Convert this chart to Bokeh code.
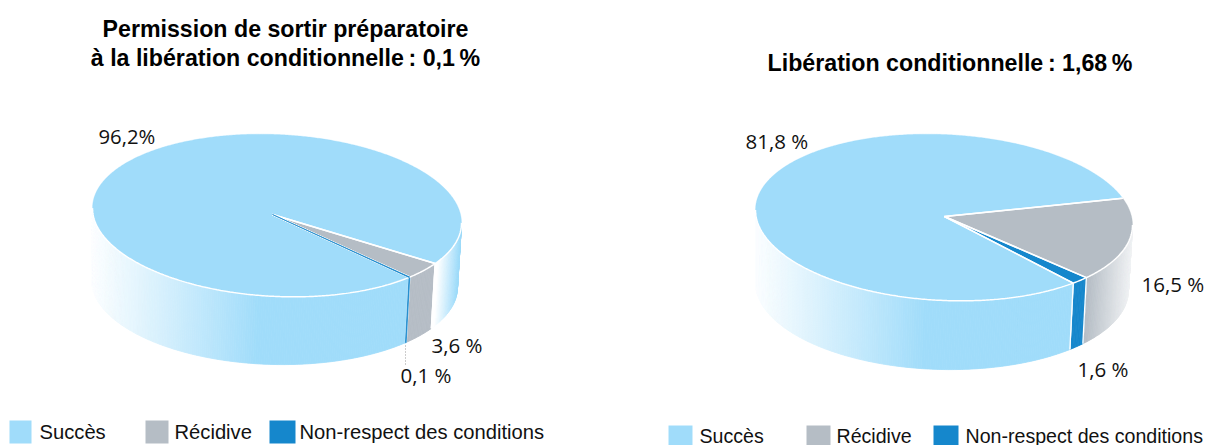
import numpy as np
from bokeh.plotting import figure
from bokeh.models import Range1d
from bokeh.core.properties import value
from bokeh.embed import file_html
from bokeh.resources import INLINE

# ---- data ----
categories = ["Succès", "Récidive", "Non-respect des conditions"]
left_values = [96.2, 3.6, 0.1]
right_values = [81.8, 16.5, 1.6]
left_labels = ["96,2%", "3,6 %", "0,1 %"]
right_labels = ["81,8 %", "16,5 %", "1,6 %"]
left_title = ["Permission de sortir préparatoire", "à la libération conditionnelle\u202f: 0,1\u202f%"]
right_title = ["Libération conditionnelle\u202f: 1,68\u202f%"]

# ---- style ----
BLUE, GREY, DARK = "#a0dcfa", "#b5bdc5", "#1587cc"
colors = [BLUE, GREY, DARK]
FONT = "Liberation Sans"
PCT_FONT = "Open Sans"
W, H = 1216, 445
SHEAR_TOP, SHEAR_BOT = 0.04, 0.02


def hex2rgb(c):
    return np.array([int(c[i:i + 2], 16) for i in (1, 3, 5)], float)


def mix(a, b, f):
    f = float(np.clip(f, 0, 1))
    r = hex2rgb(a) * (1 - f) + hex2rgb(b) * f
    return "#%02x%02x%02x" % tuple(int(round(v)) for v in r)


p = figure(width=W, height=H, x_range=Range1d(0, W), y_range=Range1d(H, 0),
           output_backend="svg", toolbar_location=None, min_border=0,
           outline_line_color=None, background_fill_color="white", border_fill_color="white")
p.xaxis.visible = False
p.yaxis.visible = False
p.grid.visible = False


def draw_pie(values, cx, cy, rx, ry, ax, ay, depth, scx, srx, start, side_shades):
    """values drawn clockwise: categories 1, 2, then 0; start = angle of the Récidive edge (deg, y down)."""
    total = sum(values)
    order = [1, 2, 0]
    spans = {}
    t = start
    for i in order:
        d = values[i] / total * 360
        spans[i] = (t, t + d)
        t += d

    def top(a):
        r = np.radians(a)
        return cx + rx * np.cos(r), cy + ry * np.sin(r) + SHEAR_TOP * rx * np.cos(r)

    def bot(a):
        r = np.radians(a)
        return scx + srx * np.cos(r), cy + depth + ry * np.sin(r) + SHEAR_BOT * srx * np.cos(r)

    # side
    for i in order:
        a0, a1 = spans[i]
        for shift in (-360, 0, 360):
            lo, hi = max(a0 + shift, 0), min(a1 + shift, 180)
            if hi <= lo:
                continue
            n = max(2, int(np.ceil((hi - lo) / 0.7)))
            edges = np.linspace(lo, hi, n + 1)
            xs, ys, cs = [], [], []
            for e0, e1 in zip(edges[:-1], edges[1:]):
                x0, y0 = top(e0)
                x1, y1 = top(e1)
                x2, y2 = bot(e1)
                x3, y3 = bot(e0)
                xs.append([x0, x1, x2, x3])
                ys.append([y0, y1, y2, y3])
                cs.append(side_shades(i, (x2 + x3) / 2, lo, hi))
            p.patches(xs, ys, fill_color=cs, line_color=cs, line_width=0.8)
            for e in (lo, hi):
                if e not in (0.0, 180.0):
                    x0, y0 = top(e)
                    x1, y1 = bot(e)
                    p.line([x0, x1], [y0, y1], line_color="white", line_width=1.3)
    # thin slice on side on top of white separators
    for i in order:
        a0, a1 = spans[i]
        if (a1 - a0) < 2:
            x0, y0 = top(a0)
            x1, y1 = top(a1)
            x2, y2 = bot(a1)
            x3, y3 = bot(a0)
            p.patch([x0, x1, x2, x3], [y0, y1, y2, y3],
                    fill_color=colors[i], line_color=colors[i], line_width=0.7)

    # top
    for i in order:
        a0, a1 = spans[i]
        aa = np.linspace(a0, a1, max(3, int((a1 - a0) * 2)))
        xs = [ax] + [top(a)[0] for a in aa]
        ys = [ay] + [top(a)[1] for a in aa]
        p.patch(xs, ys, fill_color=colors[i], line_color=colors[i], line_width=0.3)
    # rim
    aa = np.linspace(0, 180, 300)
    p.line([top(a)[0] for a in aa], [top(a)[1] for a in aa], line_color="white", line_width=1.5)
    # separators
    for i in order:
        for a in spans[i]:
            x0, y0 = top(a)
            p.line([ax, x0], [ay, y0], line_color="white", line_width=1.5)
    for i in order:
        a0, a1 = spans[i]
        if (a1 - a0) < 2:
            x0, y0 = top(a0)
            x1, y1 = top(a1)
            p.patch([ax, x0, x1], [ay, y0, y1],
                    fill_color=colors[i], line_color=colors[i], line_width=0.7)


def left_shade(i, x, lo, hi):
    if i == 0:
        if hi < 90:  # small piece at the right
            return mix("#ffffff", BLUE, (x - 433) / 22)
        return mix("#ffffff", BLUE, (x - 86) / 170)
    return colors[i]


def right_shade(i, x, lo, hi):
    if i == 0:
        return mix("#ffffff", BLUE, (x - 748) / 175)
    if i == 1:
        return mix(GREY, "#f1f3f5", (x - 1084) / 44)
    return colors[i]


draw_pie(left_values, 276.5, 215, 184.5, 81, 272, 214, 68, 274, 183, 31, left_shade)
draw_pie(right_values, 943.5, 217, 188.5, 83, 944, 216, 69, 941.5, 186.5, -18.5, right_shade)

# leader of the 0,1 % label
p.line([405, 405], [345, 366], line_color="#9a9a9a", line_width=1, line_dash="1 2")


def label(x, y, s, size=20.8, style="normal", align="left", col="#111111", font=FONT):
    p.text([x], [y], text=[s], text_font=value(font), text_font_size=f"{size}px",
           text_font_style=style, text_align=align, text_baseline="alphabetic", text_color=col)


label(285, 28, left_title[0], 23.2, "bold", "center", "#000000")
label(285, 57, left_title[1], 23.2, "bold", "center", "#000000")
label(949.5, 62, right_title[0], 23.2, "bold", "center", "#000000")

label(98, 135, left_labels[0], 20.3, font=PCT_FONT)
label(431, 344, left_labels[1], 20.5, font=PCT_FONT)
label(400, 374, left_labels[2], 20.5, font=PCT_FONT)
label(745, 140, right_labels[0], 20.5, font=PCT_FONT)
label(1141, 283, right_labels[1], 20.5, font=PCT_FONT)
label(1077, 368, right_labels[2], 20.5, font=PCT_FONT)


def legend(items_x, text_x, widths, y0, y1, base, size):
    for i, c in enumerate(categories):
        x = items_x[i]
        p.quad(left=[x], right=[x + widths[i]], top=[y0], bottom=[y1],
               fill_color=colors[i], line_color=None)
        label(text_x[i], base, c, size)


legend([9, 145, 269], [39, 174, 299], [22, 23, 26], 420, 443, 431, 20.2)
legend([668, 806, 933], [699, 836, 965], [24, 24, 25], 425, 445, 435, 19.6)

open("out.html", "w").write(file_html(p, INLINE))
